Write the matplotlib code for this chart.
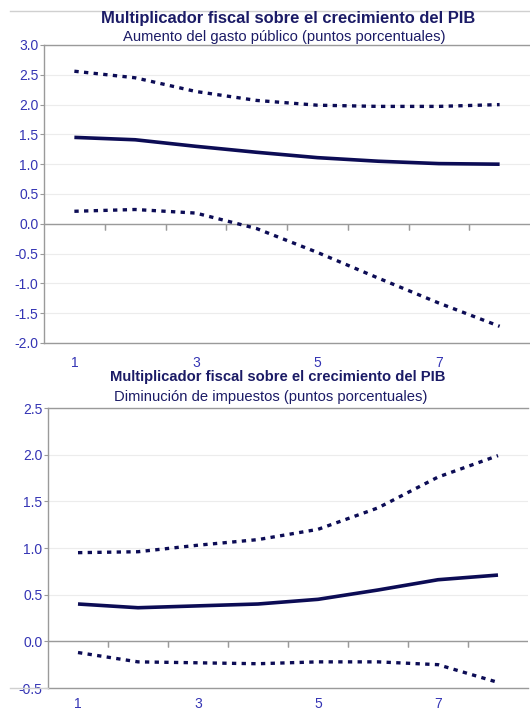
import matplotlib
matplotlib.use("Agg")
import matplotlib.pyplot as plt
from matplotlib.lines import Line2D

plt.rcParams['font.family'] = ['Liberation Sans', 'DejaVu Sans']

# Horizon (quarters after the shock)
periods = [1, 2, 3, 4, 5, 6, 7, 8]
xtick_labels = ["1", "3", "5", "7"]
xtick_positions = [1, 3, 5, 7]

# Panel 1: public spending increase
gasto_central = [1.45, 1.41, 1.30, 1.20, 1.11, 1.05, 1.01, 1.00]
gasto_sup = [2.56, 2.45, 2.22, 2.07, 1.99, 1.97, 1.97, 2.00]
gasto_inf = [0.21, 0.24, 0.18, -0.08, -0.48, -0.91, -1.33, -1.72]

# Panel 2: tax cut
imp_central = [0.40, 0.36, 0.38, 0.40, 0.45, 0.55, 0.66, 0.71]
imp_sup = [0.95, 0.96, 1.03, 1.09, 1.20, 1.43, 1.76, 1.99]
imp_inf = [-0.12, -0.22, -0.23, -0.24, -0.22, -0.22, -0.25, -0.44]

titulo = "Multiplicador fiscal sobre el crecimiento del PIB"
sub1 = "Aumento del gasto público (puntos porcentuales)"
sub2 = "Diminución de impuestos (puntos porcentuales)"

LINE = "#0c0c55"
TICK = "#3434b4"
TITLE = "#1b1b66"
SPINE = "#9a9a9a"
GRID = "#ececec"

fig = plt.figure(figsize=(5.30, 7.13), dpi=100)


def panel(rect, central, sup, inf, ylim, yticks, ylabels, xpad):
    ax = fig.add_axes(rect)
    ax.set_xlim(0.5, 8.5)
    ax.set_ylim(*ylim)
    for y in yticks:
        ax.axhline(y, color=GRID, lw=0.8, zorder=0)
    ax.axhline(0, color=SPINE, lw=1.0, zorder=1)
    ax.plot(periods, central, color=LINE, lw=2.6, solid_capstyle='butt', zorder=3)
    for s in (sup, inf):
        ax.plot(periods, s, color=LINE, lw=2.4, linestyle=(0, (1.3, 1.6)),
                dash_capstyle='butt', zorder=3)
    ax.set_yticks(yticks)
    ax.set_yticklabels(ylabels)
    ax.tick_params(axis='y', colors=SPINE, labelcolor=TICK, labelsize=10,
                   length=3, width=0.8, pad=1)
    ax.set_xticks(xtick_positions)
    ax.set_xticklabels(xtick_labels)
    ax.tick_params(axis='x', length=0, labelcolor=TICK, labelsize=10, pad=xpad)
    # tick marks between categories on the zero line
    for xb in [1.5, 2.5, 3.5, 4.5, 5.5, 6.5, 7.5]:
        ax.plot([xb, xb], [0, 0], marker=3, markersize=4, color=SPINE,
                markeredgewidth=0.9, zorder=2, clip_on=False)
    for side in ('left', 'top', 'bottom'):
        ax.spines[side].set_color(SPINE)
        ax.spines[side].set_linewidth(1.0)
    ax.spines['right'].set_visible(False)
    return ax


ax1 = panel([44 / 530, 1 - 343 / 713, 486 / 530, 298 / 713],
            gasto_central, gasto_sup, gasto_inf, (-2.0, 3.0),
            [-2.0, -1.5, -1.0, -0.5, 0.0, 0.5, 1.0, 1.5, 2.0, 2.5, 3.0],
            ["-2.0", "-1.5", "-1.0", "-0.5", "0.0", "0.5", "1.0", "1.5", "2.0", "2.5", "3.0"],
            9.5)

ax2 = panel([48 / 530, 1 - 688 / 713, 480 / 530, 280 / 713],
            imp_central, imp_sup, imp_inf, (-0.5, 2.5),
            [-0.5, 0.0, 0.5, 1.0, 1.5, 2.0, 2.5],
            ["-0.5", "0.0", "0.5", "1.0", "1.5", "2.0", "2.5"],
            6.5)

# Titles
fig.text(288 / 530, 1 - 18 / 713, titulo, ha='center', va='center',
         fontsize=11.9, fontweight='bold', color=TITLE)
fig.text(284 / 530, 1 - 37 / 713, sub1, ha='center', va='center',
         fontsize=10.6, color=TITLE)
fig.text(278 / 530, 1 - 377 / 713, titulo, ha='center', va='center',
         fontsize=10.6, fontweight='bold', color=TITLE)
fig.text(271 / 530, 1 - 397 / 713, sub2, ha='center', va='center',
         fontsize=10.6, color=TITLE)

# Frame fragments around the chart area
fig.add_artist(Line2D([10 / 530, 1.0], [1 - 11 / 713, 1 - 11 / 713],
                      color="#d0d0d0", lw=1.0))
fig.add_artist(Line2D([10 / 530, 48 / 530], [1 - 688 / 713, 1 - 688 / 713],
                      color="#d0d0d0", lw=1.0))

fig.savefig("out.png", dpi=100)
